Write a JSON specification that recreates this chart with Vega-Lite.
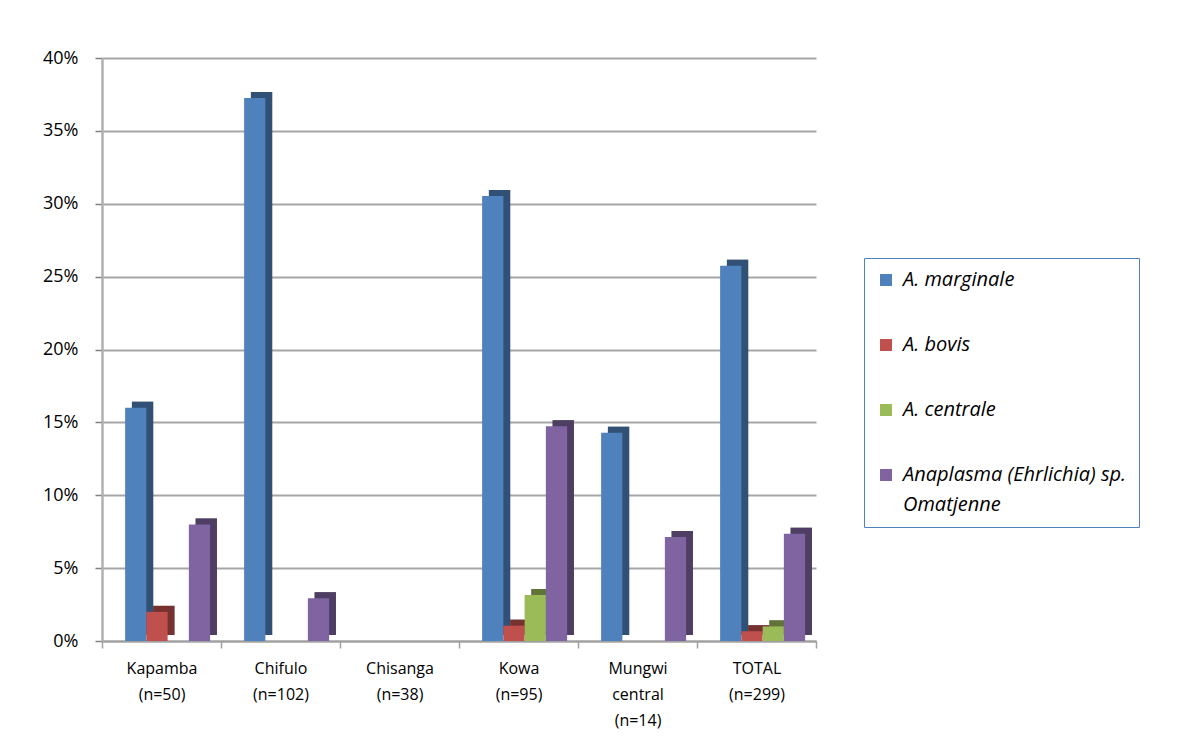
{
  "$schema": "https://vega.github.io/schema/vega-lite/v6.json",
  "width": 714,
  "height": 583,
  "autosize": {"type": "none"},
  "padding": {"left": 102, "top": 58, "right": 382, "bottom": 111},
  "background": "white",
  "config": {
    "view": {"stroke": null},
    "font": "Open Sans",
    "axis": {"labelFont": "Open Sans", "labelColor": "#000000"},
    "style": {"guide-label": {"lineHeight": 30}}
  },
  "data": {
    "values": [
      {"site": "Kapamba (n=50)", "species": "A. marginale", "prevalence": 0.16},
      {"site": "Kapamba (n=50)", "species": "A. bovis", "prevalence": 0.02},
      {"site": "Kapamba (n=50)", "species": "A. centrale", "prevalence": 0.0},
      {"site": "Kapamba (n=50)", "species": "Anaplasma (Ehrlichia) sp. Omatjenne", "prevalence": 0.08},
      {"site": "Chifulo (n=102)", "species": "A. marginale", "prevalence": 0.3725},
      {"site": "Chifulo (n=102)", "species": "A. bovis", "prevalence": 0.0},
      {"site": "Chifulo (n=102)", "species": "A. centrale", "prevalence": 0.0},
      {"site": "Chifulo (n=102)", "species": "Anaplasma (Ehrlichia) sp. Omatjenne", "prevalence": 0.0294},
      {"site": "Chisanga (n=38)", "species": "A. marginale", "prevalence": 0.0},
      {"site": "Chisanga (n=38)", "species": "A. bovis", "prevalence": 0.0},
      {"site": "Chisanga (n=38)", "species": "A. centrale", "prevalence": 0.0},
      {"site": "Chisanga (n=38)", "species": "Anaplasma (Ehrlichia) sp. Omatjenne", "prevalence": 0.0},
      {"site": "Kowa (n=95)", "species": "A. marginale", "prevalence": 0.3053},
      {"site": "Kowa (n=95)", "species": "A. bovis", "prevalence": 0.0105},
      {"site": "Kowa (n=95)", "species": "A. centrale", "prevalence": 0.0316},
      {"site": "Kowa (n=95)", "species": "Anaplasma (Ehrlichia) sp. Omatjenne", "prevalence": 0.1474},
      {"site": "Mungwi central (n=14)", "species": "A. marginale", "prevalence": 0.1429},
      {"site": "Mungwi central (n=14)", "species": "A. bovis", "prevalence": 0.0},
      {"site": "Mungwi central (n=14)", "species": "A. centrale", "prevalence": 0.0},
      {"site": "Mungwi central (n=14)", "species": "Anaplasma (Ehrlichia) sp. Omatjenne", "prevalence": 0.0714},
      {"site": "TOTAL (n=299)", "species": "A. marginale", "prevalence": 0.2575},
      {"site": "TOTAL (n=299)", "species": "A. bovis", "prevalence": 0.0067},
      {"site": "TOTAL (n=299)", "species": "A. centrale", "prevalence": 0.01},
      {"site": "TOTAL (n=299)", "species": "Anaplasma (Ehrlichia) sp. Omatjenne", "prevalence": 0.0736}
    ]
  },
  "encoding": {
    "x": {
      "field": "site",
      "type": "nominal",
      "sort": ["Kapamba (n=50)", "Chifulo (n=102)", "Chisanga (n=38)", "Kowa (n=95)", "Mungwi central (n=14)", "TOTAL (n=299)"],
      "scale": {"paddingInner": 0, "paddingOuter": 0},
      "axis": {
        "title": null,
        "labelAngle": 0,
        "labelExpr": "split(datum.label, ' ')",
        "labelFontSize": 16,
        "labelLineHeight": 26,
        "labelPadding": 12,
        "labelBaseline": "top",
        "tickBand": "extent",
        "tickSize": 7,
        "tickColor": "#A0A0A0",
        "tickWidth": 1.5,
        "domainColor": "#A0A0A0",
        "domainWidth": 2
      }
    },
    "y": {
      "field": "prevalence",
      "type": "quantitative",
      "scale": {"domain": [0, 0.4], "nice": false},
      "axis": {
        "title": null,
        "format": ".0%",
        "values": [0, 0.05, 0.1, 0.15, 0.2, 0.25, 0.3, 0.35, 0.4],
        "labelFontSize": 18,
        "labelPadding": 17,
        "tickSize": 7,
        "tickColor": "#808080",
        "tickWidth": 1.5,
        "domainColor": "#B0B0B0",
        "domainWidth": 2.5,
        "grid": true,
        "gridColor": "#A6A6A6",
        "gridWidth": 2
      }
    },
    "color": {
      "field": "species",
      "type": "nominal",
      "sort": ["A. marginale", "A. bovis", "A. centrale", "Anaplasma (Ehrlichia) sp. Omatjenne"],
      "scale": {
        "domain": ["A. marginale", "A. bovis", "A. centrale", "Anaplasma (Ehrlichia) sp. Omatjenne"],
        "range": ["#4F81BD", "#C0504D", "#9BBB59", "#8064A2"]
      },
      "legend": {
        "title": null,
        "orient": "none",
        "legendX": 762,
        "legendY": 200,
        "direction": "vertical",
        "strokeColor": "#4F81BD",
        "fillColor": "white",
        "padding": 12,
        "symbolType": "square",
        "symbolSize": 144,
        "symbolStrokeWidth": 0,
        "symbolOpacity": 1,
        "labelFont": "Open Sans",
        "labelFontStyle": "italic",
        "labelFontSize": 20,
        "labelOffset": 7,
        "labelLimit": 400,
        "rowPadding": 45,
        "labelExpr": "datum.label == 'Anaplasma (Ehrlichia) sp. Omatjenne' ? ['Anaplasma (Ehrlichia) sp.', 'Omatjenne'] : datum.label"
      }
    }
  },
  "layer": [
    {
      "encoding": {
        "xOffset": {
          "field": "species",
          "type": "nominal",
          "sort": ["A. marginale", "A. bovis", "A. centrale", "Anaplasma (Ehrlichia) sp. Omatjenne"],
          "scale": {"paddingInner": 0, "paddingOuter": 0.8, "align": 0.88}
        }
      },
      "layer": [
        {"mark": {"type": "bar", "yOffset": -6, "fill": "#000000", "opacity": 1}},
        {"mark": {"type": "bar", "yOffset": -6, "opacity": 0.62}}
      ]
    },
    {
      "encoding": {
        "xOffset": {
          "field": "species",
          "type": "nominal",
          "sort": ["A. marginale", "A. bovis", "A. centrale", "Anaplasma (Ehrlichia) sp. Omatjenne"],
          "scale": {"paddingInner": 0, "paddingOuter": 0.8, "align": 0.68}
        }
      },
      "mark": {"type": "bar", "opacity": 1}
    }
  ],
  "resolve": {"scale": {"xOffset": "independent"}}
}
